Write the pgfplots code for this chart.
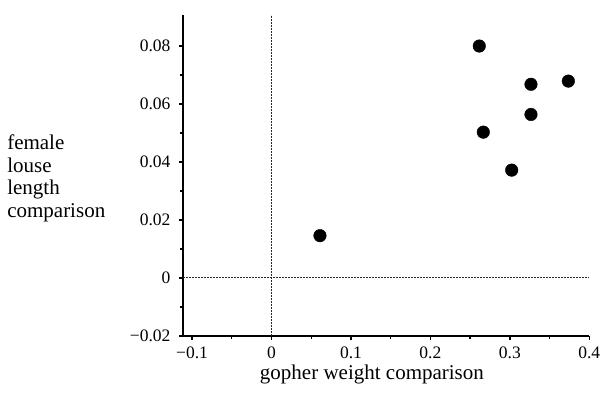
\documentclass[border=0pt]{standalone}
\usepackage{fontspec}
\setmainfont{Liberation Serif}
\usepackage{pgfplots}
\pgfplotsset{compat=1.18}
\begin{document}
\begin{tikzpicture}
\begin{axis}[
  name=ax,
  scale only axis,
  width=406.3pt, height=321pt,
  xmin=-0.1114, xmax=0.4,
  ymin=-0.02, ymax=0.0907,
  scaled x ticks=false, scaled y ticks=false,
  axis lines=left,
  axis line style={-, line width=1.8pt},
  tick align=outside,
  major tick length=4pt, minor tick length=3pt,
  tick style={line width=1.3pt, black},
  xtick={-0.1,0,0.1,0.2,0.3,0.4},
  xticklabels={−0.1,0,0.1,0.2,0.3,0.4},
  ytick={-0.02,0,0.02,0.04,0.06,0.08},
  yticklabels={−0.02,0,0.02,0.04,0.06,0.08},
  minor x tick num=1, minor y tick num=1,
  ticklabel style={font=\fontsize{17.5}{20}\selectfont},
  yticklabel style={xshift=-5pt},
  xticklabel style={yshift=-3pt},
  xlabel={gopher weight comparison},
  xlabel style={at={(axis description cs:0.465,-0.137)}, anchor=base, font=\fontsize{21}{23}\selectfont},
  ylabel={female\\louse\\length\\comparison},
  ylabel style={at={(axis description cs:-0.433,0.628)}, anchor=north west, rotate=-90, align=left, inner sep=0pt, font=\fontsize{21}{22.8}\selectfont},
  clip=false,
]
\addplot[black!85, line width=1pt, dash pattern=on 0.9pt off 0.6pt] coordinates {(-0.1114,0) (0.4,0)};
\addplot[black!85, line width=1pt, dash pattern=on 0.9pt off 0.6pt] coordinates {(0,-0.02) (0,0.0907)};
\addplot[only marks, mark=*, mark size=6.3pt, black] table {
x y
0.2615 0.0800
0.3266 0.0668
0.3736 0.0679
0.3266 0.0564
0.2666 0.0503
0.3023 0.0372
0.0610 0.0146
};
\end{axis}
\pgfresetboundingbox
\path (ax.south west) ++(-183pt,-59pt) rectangle ++(606pt,395pt);
\end{tikzpicture}
\end{document}
